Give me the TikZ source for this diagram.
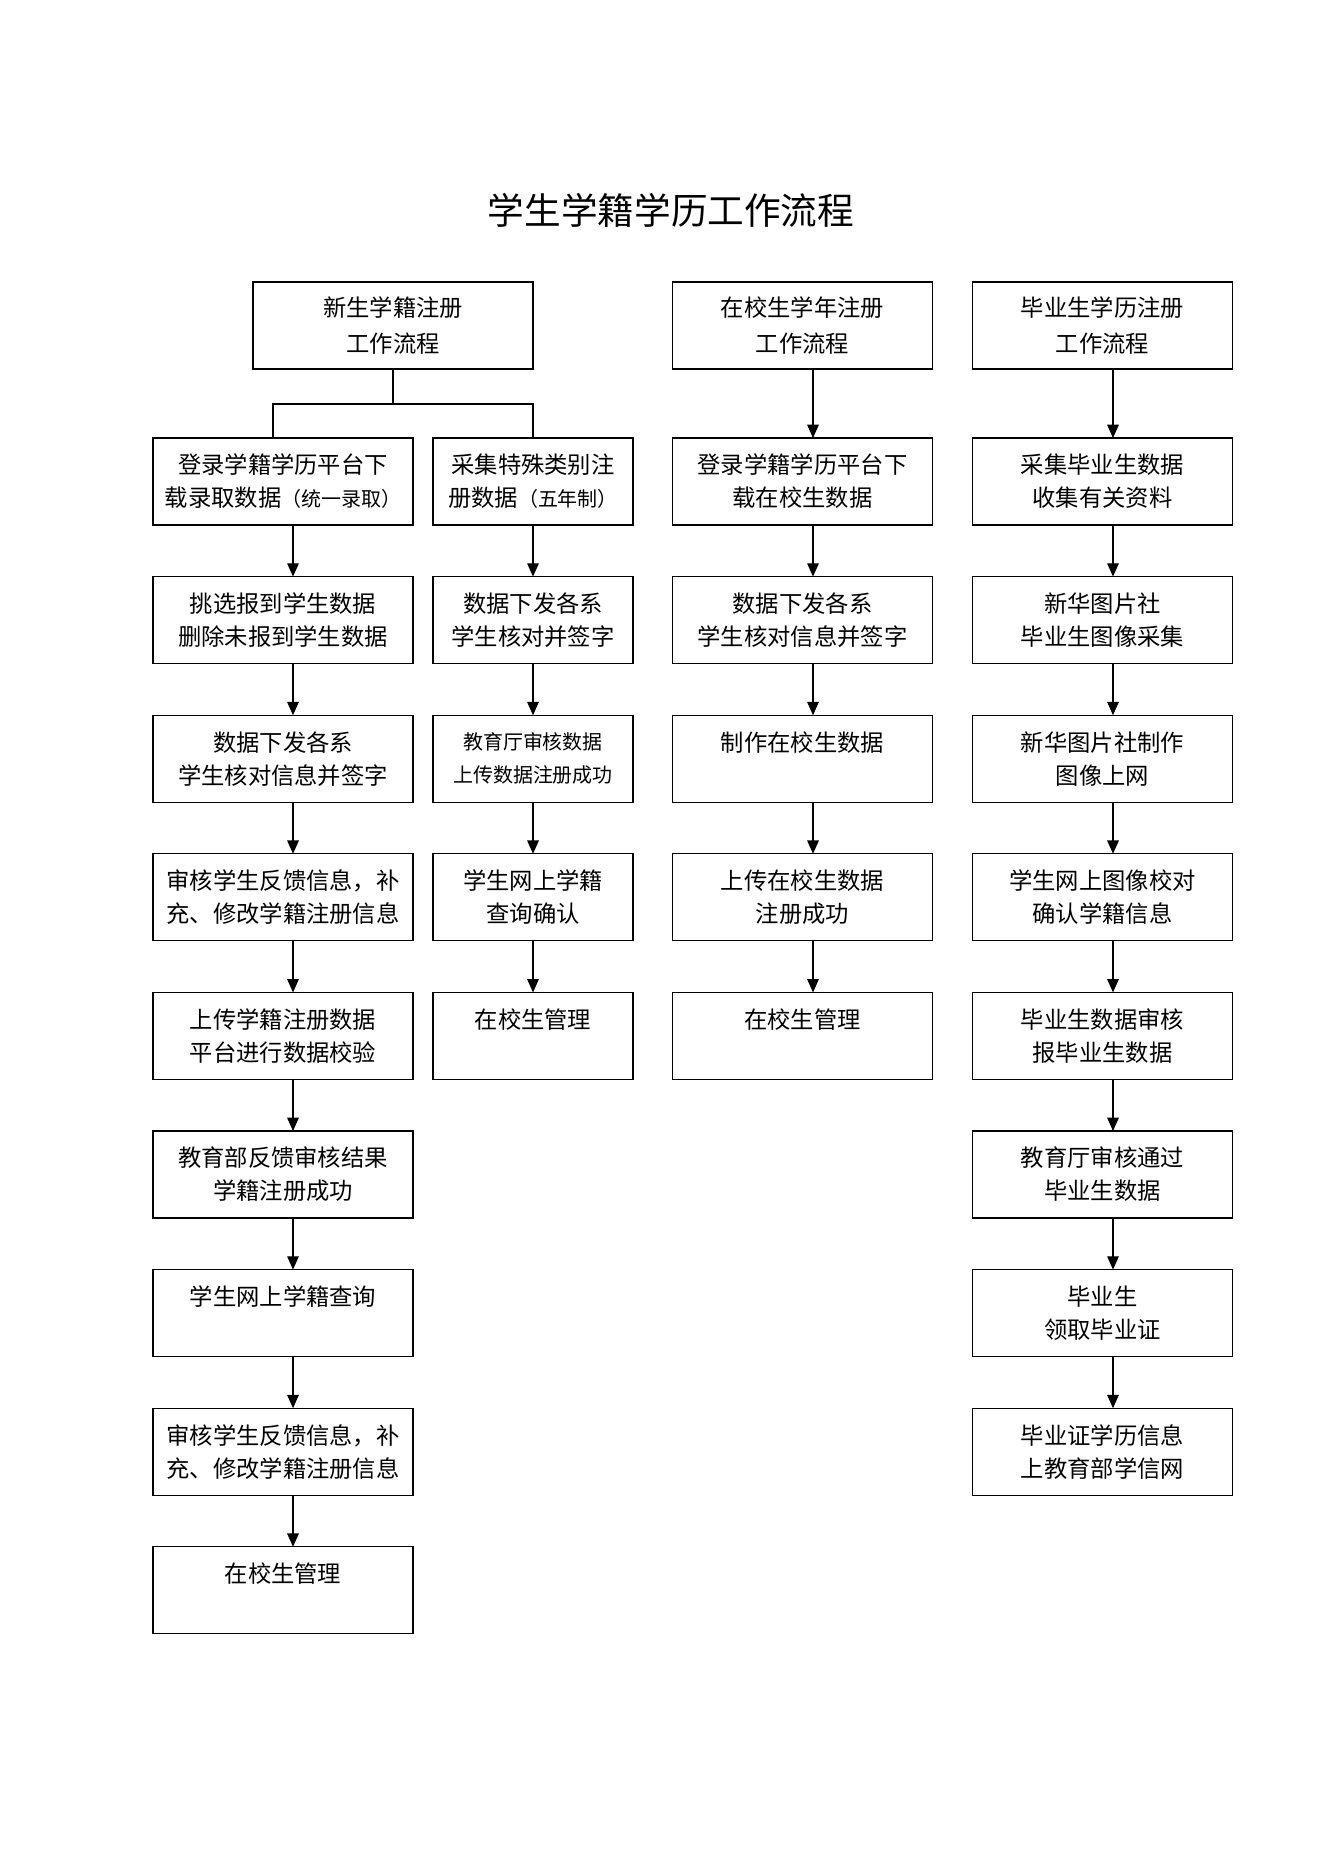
\documentclass[tikz,border=0pt]{standalone}
\usepackage{fontspec}
\setmainfont{Noto Sans CJK SC}
\usetikzlibrary{arrows.meta,calc}
\begin{document}
\begin{tikzpicture}[x=0.4503pt,y=-0.4503pt,
  every node/.style={inner sep=0pt,outer sep=0pt},
  boxbase/.style={draw,line width=0.6pt,align=center,minimum height=87*0.4503pt,
    font=\fontsize{10.5pt}{14.9pt}\selectfont},
  bA/.style={boxbase,minimum width=260*0.4503pt},
  bB/.style={boxbase,minimum width=200*0.4503pt},
  bH/.style={boxbase,minimum width=280*0.4503pt,font=\fontsize{10.5pt}{15.8pt}\selectfont},
  bHs/.style={boxbase,minimum width=260*0.4503pt,font=\fontsize{10.5pt}{15.8pt}\selectfont},
  sm/.style={font=\fontsize{9pt}{14.9pt}\selectfont},
  arr/.style={line width=0.6pt,-{Triangle[length=6pt,width=5.2pt]}},
  ln/.style={line width=0.6pt}]
\useasboundingbox (0,0) rectangle (1322,1871);
\node (title) at (671,210) {\fontsize{16.5pt}{20pt}\selectfont 学生学籍学历工作流程};
% heads
\node[bH] (h1) at (393,325.5) {新生学籍注册\\工作流程};
\node[bHs] (h3) at (802.5,325.5) {在校生学年注册\\工作流程};
\node[bHs] (h4) at (1102.5,325.5) {毕业生学历注册\\工作流程};
% column 1
\node[bA] (r1c1) at (283,481.5) {登录学籍学历平台下\\载录取数据{\fontsize{9pt}{14.9pt}\selectfont （统一录取）}};
\node[bA] (r2c1) at (283,620.1) {挑选报到学生数据\\删除未报到学生数据};
\node[bA] (r3c1) at (283,758.7) {数据下发各系\\学生核对信息并签字};
\node[bA] (r4c1) at (283,897.3) {审核学生反馈信息，补\\充、修改学籍注册信息};
\node[bA] (r5c1) at (283,1035.9) {上传学籍注册数据\\平台进行数据校验};
\node[bA] (r6c1) at (283,1174.5) {教育部反馈审核结果\\学籍注册成功};
\node[bA] (r7c1) at (283,1313.1) {学生网上学籍查询\\\phantom{学}};
\node[bA] (r8c1) at (283,1451.7) {审核学生反馈信息，补\\充、修改学籍注册信息};
\node[bA] (r9c1) at (283,1590.3) {在校生管理\\\phantom{学}};
% column 2
\node[bB] (r1c2) at (533,481.5) {采集特殊类别注\\册数据{\fontsize{9pt}{14.9pt}\selectfont （五年制）}};
\node[bB] (r2c2) at (533,620.1) {数据下发各系\\学生核对并签字};
\node[bB,sm] (r3c2) at (533,758.7) {教育厅审核数据\\上传数据注册成功};
\node[bB] (r4c2) at (533,897.3) {学生网上学籍\\查询确认};
\node[bB] (r5c2) at (533,1035.9) {在校生管理\\\phantom{学}};
% column 3
\node[bA] (r1c3) at (802.5,481.5) {登录学籍学历平台下\\载在校生数据};
\node[bA] (r2c3) at (802.5,620.1) {数据下发各系\\学生核对信息并签字};
\node[bA] (r3c3) at (802.5,758.7) {制作在校生数据\\\phantom{学}};
\node[bA] (r4c3) at (802.5,897.3) {上传在校生数据\\注册成功};
\node[bA] (r5c3) at (802.5,1035.9) {在校生管理\\\phantom{学}};
% column 4
\node[bA] (r1c4) at (1102.5,481.5) {采集毕业生数据\\收集有关资料};
\node[bA] (r2c4) at (1102.5,620.1) {新华图片社\\毕业生图像采集};
\node[bA] (r3c4) at (1102.5,758.7) {新华图片社制作\\图像上网};
\node[bA] (r4c4) at (1102.5,897.3) {学生网上图像校对\\确认学籍信息};
\node[bA] (r5c4) at (1102.5,1035.9) {毕业生数据审核\\报毕业生数据};
\node[bA] (r6c4) at (1102.5,1174.5) {教育厅审核通过\\毕业生数据};
\node[bA] (r7c4) at (1102.5,1313.1) {毕业生\\领取毕业证};
\node[bA] (r8c4) at (1102.5,1451.7) {毕业证学历信息\\上教育部学信网};
% arrow x positions
\coordinate (a1) at (293,0);
\coordinate (a2) at (533,0);
\coordinate (a3) at (813,0);
\coordinate (a4) at (1113,0);
\coordinate (jl) at (273,0);
\coordinate (j) at (393,404);
% junction
\draw[ln] (h1.south) -- (j);
\draw[ln] (r1c1.north -| jl) |- (j) -| (r1c2.north);
\draw[arr] (h3.south -| a3) -- (r1c3.north -| a3);
\draw[arr] (h4.south -| a4) -- (r1c4.north -| a4);
\foreach \i [count=\k from 2] in {1,...,8}
  \draw[arr] (r\i c1.south -| a1) -- (r\k c1.north -| a1);
\foreach \i [count=\k from 2] in {1,...,4}
  \draw[arr] (r\i c2.south -| a2) -- (r\k c2.north -| a2);
\foreach \i [count=\k from 2] in {1,...,4}
  \draw[arr] (r\i c3.south -| a3) -- (r\k c3.north -| a3);
\foreach \i [count=\k from 2] in {1,...,7}
  \draw[arr] (r\i c4.south -| a4) -- (r\k c4.north -| a4);
\end{tikzpicture}
\end{document}
